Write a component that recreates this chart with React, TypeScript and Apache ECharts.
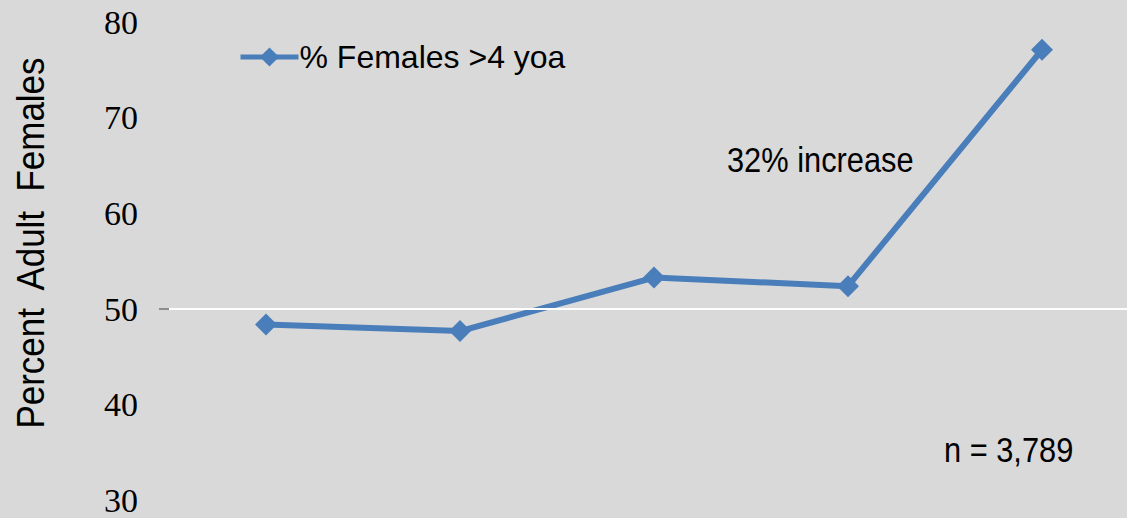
import React, { useEffect, useRef } from "react";
import * as echarts from "echarts";

const categories = ["Period 1", "Period 2", "Period 3", "Period 4", "Period 5"];
const femalesOver4 = [48.4, 47.7, 53.3, 52.4, 77.1];
const yTicks = [30, 40, 50, 60, 70, 80];
const seriesName = "% Females >4 yoa";
const axisTitle = "Percent  Adult  Females";
const noteIncrease = "32% increase";
const noteN = "n = 3,789";

const SANS = "'Liberation Sans', Arial, sans-serif";
const SERIF = "'Liberation Serif', 'Times New Roman', serif";
const BLUE = "#4a7ebb";

export default function App() {
  const ref = useRef<HTMLDivElement>(null);
  useEffect(() => {
    if (!ref.current) return;
    const chart = echarts.init(ref.current, undefined, { renderer: "svg" });
    chart.setOption({
      animation: false,
      backgroundColor: "#d9d9d9",
      grid: { left: 169, top: 22, right: 0, height: 478.5 },
      legend: {
        left: 238,
        top: 41,
        padding: 0,
        itemWidth: 58,
        itemHeight: 24,
        itemGap: 0,
        lineStyle: { width: 5 },
        textStyle: { fontFamily: SANS, fontSize: 32, color: "#000", padding: [0, 0, 0, -4] },
        data: [seriesName],
      },
      xAxis: { type: "category", data: categories, show: false, boundaryGap: true },
      yAxis: {
        type: "value",
        min: yTicks[0],
        max: yTicks[yTicks.length - 1],
        interval: 10,
        axisLine: { show: false },
        axisTick: { show: false },
        splitLine: { show: false },
        axisLabel: { margin: 31, fontFamily: SERIF, fontSize: 34, color: "#000" },
      },
      series: [
        {
          name: seriesName,
          type: "line",
          data: femalesOver4,
          symbol: "diamond",
          symbolSize: 22,
          lineStyle: { color: BLUE, width: 6 },
          itemStyle: { color: BLUE },
          markLine: {
            silent: true,
            symbol: "none",
            label: { show: false },
            lineStyle: { color: "#ffffff", width: 2, type: "solid" },
            data: [{ yAxis: 50 }],
          },
        },
      ],
      graphic: [
        {
          type: "line",
          shape: { x1: 159, y1: 309, x2: 170, y2: 309 },
          style: { stroke: "#8c8c8c", lineWidth: 2 },
        },
        {
          type: "text",
          x: 31,
          y: 243,
          rotation: Math.PI / 2,
          scaleX: 0.92,
          style: {
            text: axisTitle,
            fontFamily: SANS,
            fontSize: 38,
            fill: "#000",
            align: "center",
            verticalAlign: "middle",
          },
        },
        {
          type: "text",
          x: 727,
          y: 160,
          scaleX: 0.88,
          style: {
            text: noteIncrease,
            fontFamily: SANS,
            fontSize: 35,
            fill: "#000",
            align: "left",
            verticalAlign: "middle",
          },
        },
        {
          type: "text",
          x: 944,
          y: 450,
          scaleX: 0.88,
          style: {
            text: noteN,
            fontFamily: SANS,
            fontSize: 35,
            fill: "#000",
            align: "left",
            verticalAlign: "middle",
          },
        },
      ],
    });
    return () => chart.dispose();
  }, []);
  return (
    <div
      style={{
        position: "absolute",
        left: 0,
        top: 0,
        width: 1127,
        height: 518,
        overflow: "hidden",
        background: "#d9d9d9",
      }}
    >
      <div ref={ref} style={{ width: 1139, height: 518 }} />
    </div>
  );
}
